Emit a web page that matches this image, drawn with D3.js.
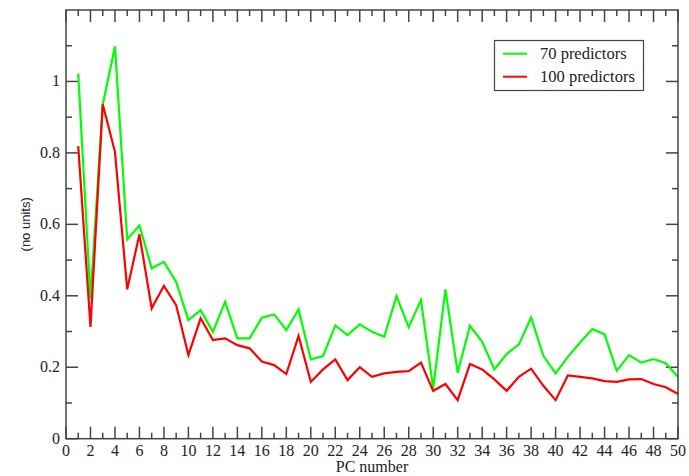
<!DOCTYPE html>
<html><head><meta charset="utf-8">
<script src="https://cdn.jsdelivr.net/npm/d3@7"></script>
<style>body{margin:0;background:#fff}svg{display:block}</style>
</head><body>
<script>
const pcNumbers = d3.range(1, 51);
const green70 = [1.022,0.392,0.935,1.098,0.558,0.597,0.477,0.495,0.439,0.332,0.360,0.299,0.383,0.281,0.281,0.339,0.348,0.304,0.362,0.222,0.231,0.317,0.290,0.320,0.299,0.285,0.399,0.312,0.388,0.141,0.418,0.185,0.316,0.271,0.194,0.237,0.264,0.339,0.232,0.183,0.229,0.269,0.307,0.292,0.190,0.234,0.213,0.223,0.211,0.173];
const red100 = [0.819,0.313,0.936,0.803,0.418,0.572,0.365,0.428,0.374,0.234,0.337,0.276,0.281,0.262,0.253,0.216,0.206,0.181,0.288,0.159,0.194,0.222,0.164,0.200,0.173,0.183,0.187,0.189,0.213,0.134,0.153,0.108,0.209,0.194,0.166,0.134,0.173,0.196,0.148,0.108,0.177,0.173,0.169,0.161,0.159,0.166,0.167,0.153,0.144,0.125];
const seriesNames = ["70 predictors", "100 predictors"];
const seriesColors = ["#00ff00", "#ff0000"];
const xTicks = d3.range(0, 51, 2);
const yTicks = [0, 0.2, 0.4, 0.6, 0.8, 1];

const W = 689, H = 476;
const L = 66, R = 678, T = 10, B = 438.7;
const svg = d3.select("body").append("svg").attr("width", W).attr("height", H);
const x = d3.scaleLinear().domain([0, 50]).range([L, R]);
const y = d3.scaleLinear().domain([0, 1.2]).range([B, T]);
const axisColor = "#444";
const serif = "'Liberation Serif','Times New Roman',serif";

const g = svg.append("g");
function ticks(vals, len, side) {
  vals.forEach(v => {
    if (side === "b") g.append("line").attr("x1", x(v)).attr("x2", x(v)).attr("y1", B).attr("y2", B - len);
    if (side === "t") g.append("line").attr("x1", x(v)).attr("x2", x(v)).attr("y1", T).attr("y2", T + len);
    if (side === "l") g.append("line").attr("x1", L).attr("x2", L + len).attr("y1", y(v)).attr("y2", y(v));
    if (side === "r") g.append("line").attr("x1", R).attr("x2", R - len).attr("y1", y(v)).attr("y2", y(v));
  });
}
const xMinor = d3.range(1, 50, 2);
const yMinor = [0.1, 0.3, 0.5, 0.7, 0.9, 1.1];
ticks(xTicks, 12, "b"); ticks(xTicks, 12, "t");
ticks(xMinor, 6, "b"); ticks(xMinor, 6, "t");
ticks(yTicks, 12, "l"); ticks(yTicks, 12, "r");
ticks(yMinor, 6, "l"); ticks(yMinor, 6, "r");
g.selectAll("line").attr("stroke", axisColor).attr("stroke-width", 1.5);

svg.append("g").selectAll("text").data(xTicks).join("text")
  .attr("x", d => x(d)).attr("y", B + 17).attr("text-anchor", "middle")
  .attr("font-family", serif).attr("font-size", 16).attr("fill", "#222").text(d => d);
svg.append("g").selectAll("text").data(yTicks).join("text")
  .attr("x", L - 6).attr("y", d => y(d) + 5).attr("text-anchor", "end")
  .attr("font-family", serif).attr("font-size", 16).attr("fill", "#222").text(d => d);

svg.append("text").attr("x", (L + R) / 2).attr("y", 472).attr("text-anchor", "middle")
  .attr("font-family", serif).attr("font-size", 16).attr("fill", "#222").text("PC number");
svg.append("text").attr("transform", `translate(30,${(T + B) / 2}) rotate(-90)`).attr("text-anchor", "middle")
  .attr("font-family", "'Liberation Sans',Arial,sans-serif").attr("font-size", 13).attr("fill", "#222").text("(no units)");

const line = d3.line().x((d, i) => x(pcNumbers[i])).y(d => y(d));
[green70, red100].forEach((s, k) => {
  svg.append("path").datum(s).attr("d", line).attr("fill", "none")
    .attr("stroke", seriesColors[k]).attr("stroke-width", 2.2).attr("stroke-linejoin", "miter");
});

svg.append("rect").attr("x", L).attr("y", T).attr("width", R - L).attr("height", B - T)
  .attr("fill", "none").attr("stroke", axisColor).attr("stroke-width", 1.5);

const lg = svg.append("g");
lg.append("rect").attr("x", 494.5).attr("y", 40.5).attr("width", 149).attr("height", 50)
  .attr("fill", "#fff").attr("stroke", axisColor).attr("stroke-width", 1.2);
seriesNames.forEach((n, k) => {
  const yy = 53.7 + k * 23;
  lg.append("line").attr("x1", 503).attr("x2", 527).attr("y1", yy).attr("y2", yy)
    .attr("stroke", seriesColors[k]).attr("stroke-width", 2);
  lg.append("text").attr("x", 540).attr("y", yy + 5).attr("font-family", serif)
    .attr("font-size", 16.5).attr("fill", "#222").text(n);
});
</script>
</body></html>
